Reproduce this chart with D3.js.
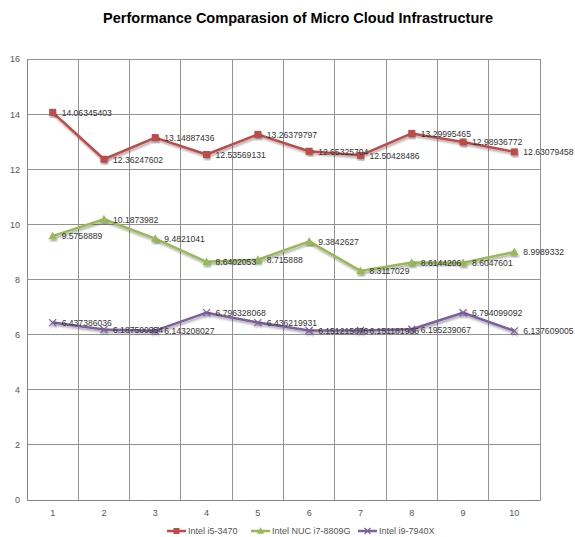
<!DOCTYPE html>
<html>
<head>
<meta charset="utf-8">
<script src="https://cdn.jsdelivr.net/npm/d3@7"></script>
<style>
  body { margin: 0; background: #fff; }
  svg { display: block; font-family: "Liberation Sans", Arial, sans-serif; }
</style>
</head>
<body>
<div id="chart"></div>
<script>
// chart data
const categories = ["1", "2", "3", "4", "5", "6", "7", "8", "9", "10"];
const seriesNames = ["Intel i5-3470", "Intel NUC i7-8809G", "Intel i9-7940X"];
const i5Values = [14.06345403, 12.36247602, 13.14887436, 12.53569131, 13.26379797,
                  12.65325704, 12.50428486, 13.29995465, 12.98936772, 12.63079458];
const nucValues = [9.5758889, 10.1873982, 9.4821041, 8.6402053, 8.715888,
                   9.3842627, 8.3117029, 8.6144206, 8.6047601, 8.9989332];
const i9Values = [6.437386036, 6.187500954, 6.143208027, 6.796328068, 6.436219931,
                  6.151215076, 6.151181936, 6.195239067, 6.794099092, 6.137609005];
const yTicks = [0, 2, 4, 6, 8, 10, 12, 14, 16];
const titleText = "Performance Comparasion of Micro Cloud Infrastructure";

const series = [
  { name: seriesNames[0], values: i5Values, color: "#be4b48", marker: "square" },
  { name: seriesNames[1], values: nucValues, color: "#98b954", marker: "triangle" },
  { name: seriesNames[2], values: i9Values, color: "#7d60a0", marker: "cross" }
];

const W = 575, H = 537;
const plot = { left: 27, right: 540, top: 59, bottom: 500 };

const svg = d3.select("#chart").append("svg")
  .attr("width", W).attr("height", H);

// soft shadow under the lines, like the office chart style
const defs = svg.append("defs");
const f = defs.append("filter").attr("id", "shadow")
  .attr("x", "-10%").attr("y", "-10%").attr("width", "120%").attr("height", "140%");
f.append("feDropShadow").attr("dx", 1).attr("dy", 2).attr("stdDeviation", 1.2)
  .attr("flood-color", "#000").attr("flood-opacity", 0.35);

const x = d3.scaleBand().domain(categories).range([plot.left, plot.right]).padding(0);
const y = d3.scaleLinear().domain([0, 16]).range([plot.bottom, plot.top]);
const cx = d => x(d) + x.bandwidth() / 2;

// title
const title = svg.append("text")
  .attr("x", 298).attr("y", 23)
  .attr("text-anchor", "middle")
  .attr("font-size", 15.5).attr("font-weight", "bold")
  .attr("fill", "#000")
  .text(titleText);
if (title.node().getComputedTextLength() > 390) {
  title.attr("textLength", 390).attr("lengthAdjust", "spacingAndGlyphs");
}

// horizontal grid
svg.append("g")
  .selectAll("line").data(yTicks).join("line")
  .attr("x1", plot.left).attr("x2", plot.right)
  .attr("y1", d => y(d)).attr("y2", d => y(d))
  .attr("stroke", "#939393").attr("stroke-width", 1)
  .attr("shape-rendering", "crispEdges");

// vertical grid at category boundaries
const bounds = categories.map(c => x(c)).concat([plot.right]);
svg.append("g")
  .selectAll("line").data(bounds).join("line")
  .attr("x1", d => d).attr("x2", d => d)
  .attr("y1", plot.top).attr("y2", plot.bottom)
  .attr("stroke", "#939393").attr("stroke-width", 1)
  .attr("shape-rendering", "crispEdges");

// y axis
const yAxis = svg.append("g")
  .attr("transform", `translate(${plot.left},0)`)
  .call(d3.axisLeft(y).tickValues(yTicks).tickSize(0).tickPadding(7));
yAxis.select(".domain").attr("stroke", "#868686");
yAxis.selectAll("text").attr("font-size", 9).attr("fill", "#555")
  .attr("font-family", "Liberation Sans, Arial, sans-serif");

// x axis
const xAxis = svg.append("g")
  .attr("transform", `translate(0,${plot.bottom})`)
  .call(d3.axisBottom(x).tickSize(0).tickPadding(10));
xAxis.select(".domain").attr("stroke", "#868686");
xAxis.selectAll("text").attr("font-size", 9).attr("fill", "#555")
  .attr("font-family", "Liberation Sans, Arial, sans-serif");

// marker drawing
function drawMarker(g, type, color, size) {
  const s = size;
  if (type === "square") {
    g.append("rect").attr("x", -s / 2).attr("y", -s / 2)
      .attr("width", s).attr("height", s).attr("fill", color);
  } else if (type === "triangle") {
    const h = s * 1.05;
    g.append("path")
      .attr("d", `M0,${-h * 0.6}L${s * 0.6},${h * 0.45}L${-s * 0.6},${h * 0.45}Z`)
      .attr("fill", color);
  } else {
    const r = s / 2;
    g.append("path")
      .attr("d", `M${-r},${-r}L${r},${r}M${-r},${r}L${r},${-r}`)
      .attr("stroke", color).attr("stroke-width", 1.2).attr("fill", "none");
  }
}

const line = d3.line()
  .x((d, i) => cx(categories[i]))
  .y(d => y(d));

series.forEach(s => {
  const g = svg.append("g");
  g.append("path")
    .datum(s.values)
    .attr("d", line)
    .attr("fill", "none")
    .attr("stroke", s.color)
    .attr("stroke-width", 2.5)
    .attr("stroke-linejoin", "round")
    .attr("filter", "url(#shadow)");

  g.selectAll(".mk").data(s.values).join("g")
    .attr("class", "mk")
    .attr("transform", (d, i) => `translate(${cx(categories[i])},${y(d)})`)
    .attr("filter", "url(#shadow)")
    .each(function () { drawMarker(d3.select(this), s.marker, s.color, 7); });

  g.selectAll(".lbl").data(s.values).join("text")
    .attr("class", "lbl")
    .attr("x", (d, i) => cx(categories[i]) + 9)
    .attr("y", d => y(d) + 3.4)
    .attr("font-size", 8.6)
    .attr("fill", "#333")
    .text(d => String(d));
});

// legend
const legendX = [167, 251, 358];
const legendY = 531;
series.forEach((s, i) => {
  const g = svg.append("g").attr("transform", `translate(${legendX[i]},${legendY})`);
  g.append("line").attr("x1", 0).attr("x2", 19).attr("y1", 0).attr("y2", 0)
    .attr("stroke", s.color).attr("stroke-width", 2.5);
  const m = g.append("g").attr("transform", "translate(9.5,0)");
  drawMarker(m, s.marker, s.color, 6);
  g.append("text").attr("x", 21).attr("y", 3.2)
    .attr("font-size", 9).attr("fill", "#555")
    .text(s.name);
});
</script>
</body>
</html>
